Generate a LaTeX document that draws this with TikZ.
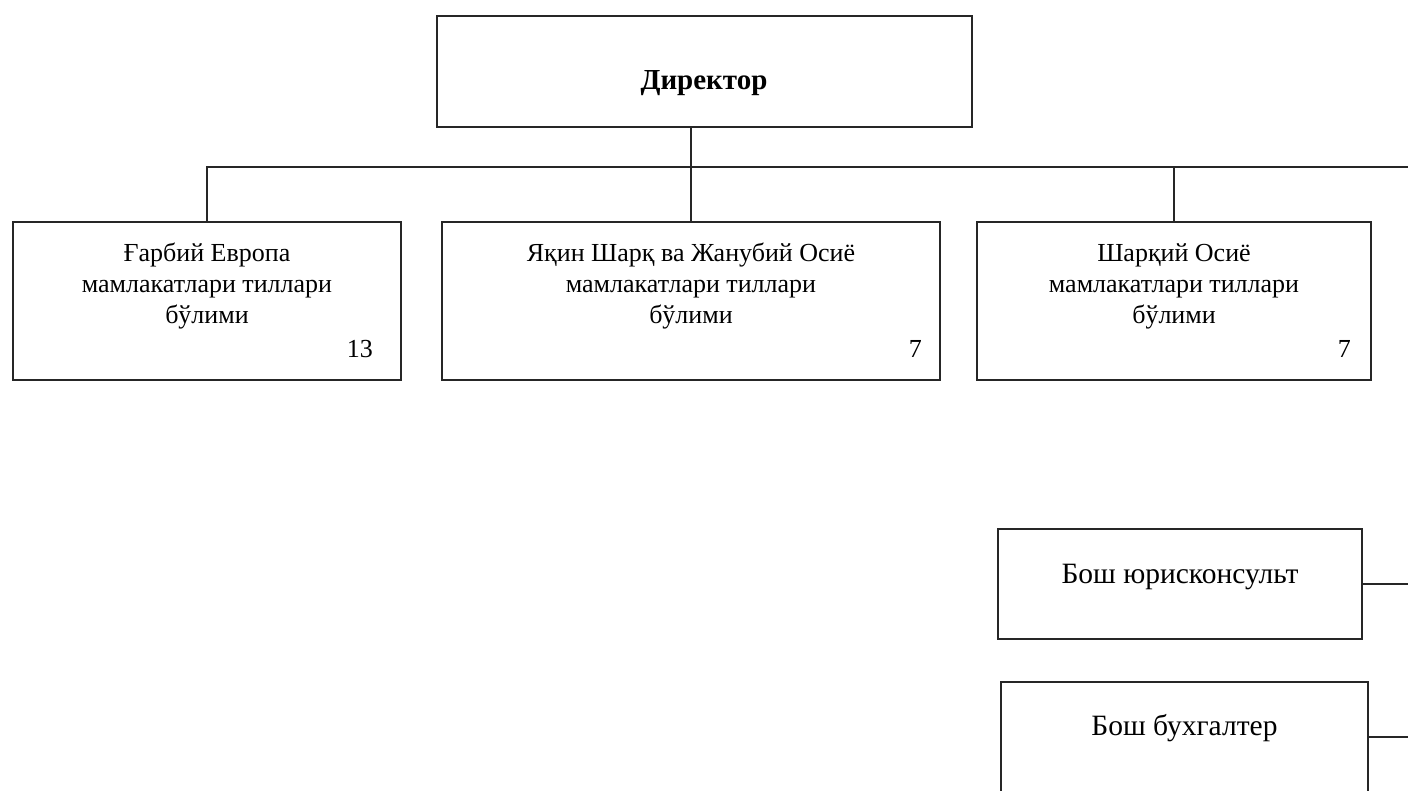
\documentclass[tikz,border=0pt]{standalone}
\usepackage{fontspec}
\setmainfont{Liberation Serif}
\begin{document}
\begin{tikzpicture}[x=1pt,y=-1pt,
  box/.style={draw=black!85, line width=1.6pt, inner sep=0pt, rectangle},
  conn/.style={draw=black!85, line width=1.2pt},
  rowtext/.style={align=center, font=\fontsize{26}{31}\selectfont, anchor=base, inner sep=0pt},
  lowtext/.style={font=\fontsize{29.5}{33}\selectfont, anchor=base, inner sep=0pt},
  numtext/.style={font=\fontsize{26}{30}\selectfont, anchor=base east, inner sep=0pt}]
\useasboundingbox (0,0) rectangle (1408,790);
\clip (0,0) rectangle (1408,790);
% boxes
\node[box, minimum width=535, minimum height=111] (dir) at (704.5,71.5) {};
\node[box, minimum width=388, minimum height=158] (b1) at (207,301) {};
\node[box, minimum width=498, minimum height=158] (b2) at (691,301) {};
\node[box, minimum width=394, minimum height=158] (b3) at (1174,301) {};
\node[box, minimum width=364, minimum height=110] (jr) at (1180,584) {};
\node[box, minimum width=367, minimum height=110] (bh) at (1184.5,737) {};
% texts
\node[font=\bfseries\fontsize{29}{33}\selectfont, anchor=base, inner sep=0pt] (dirt) at (704,89) {Директор};
\node[rowtext] (t1) at (207,323) {Ғарбий Европа\\мамлакатлари тиллари\\бўлими};
\node[rowtext] (t2) at (691,323) {Яқин Шарқ ва Жанубий Осиё\\мамлакатлари тиллари\\бўлими};
\node[rowtext] (t3) at (1174,323) {Шарқий Осиё\\мамлакатлари тиллари\\бўлими};
\node[numtext] (n1) at (373,357) {13};
\node[numtext] (n2) at (922,357) {7};
\node[numtext] (n3) at (1351,357) {7};
\node[lowtext] (jrt) at (1180,583) {Бош юрисконсульт};
\node[lowtext] (bht) at (1184.5,735) {Бош бухгалтер};
% connectors
\coordinate (busR) at (1408,167);
\coordinate (bhc) at (1408,737);
\draw[conn] (b1.north) |- (busR);
\draw[conn] (b2.north) -- (b2.north |- dir.south);
\draw[conn] (b3.north) -- (b3.north |- busR);
\draw[conn] (jr.east) -- (jr.east -| busR);
\draw[conn] (bh.east) -- (bhc);
\end{tikzpicture}
\end{document}
